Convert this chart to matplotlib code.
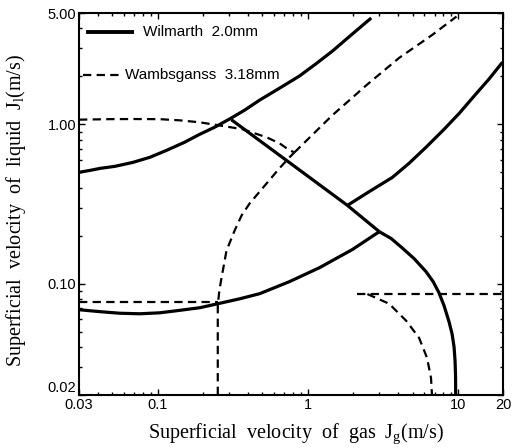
import matplotlib
matplotlib.use("Agg")
import matplotlib.pyplot as plt
from matplotlib.lines import Line2D

plt.rcParams['font.family'] = ['Liberation Sans', 'DejaVu Sans']
plt.rcParams['mathtext.fontset'] = 'custom'
plt.rcParams['mathtext.rm'] = 'Liberation Serif'

# ---- data ----
# Wilmarth 2.0 mm (solid)
wil_upper_x = [0.03, 0.0355, 0.0414, 0.052, 0.0685, 0.0889, 0.115, 0.151, 0.191, 0.240,
               0.302, 0.380, 0.479, 0.650, 0.881, 1.13, 1.46, 1.95, 2.65]
wil_upper_y = [0.50, 0.514, 0.529, 0.545, 0.577, 0.621, 0.687, 0.771, 0.866, 0.959,
               1.08, 1.227, 1.42, 1.687, 2.01, 2.39, 2.88, 3.64, 4.65]
wil_diag_x = [0.31, 1.84, 3.0]
wil_diag_y = [1.07, 0.31, 0.212]
wil_right_up_x = [1.84, 2.58, 3.66, 4.73, 6.14, 8.1, 10.2, 12.8, 16.1, 19.6, 20.0]
wil_right_up_y = [0.31, 0.379, 0.464, 0.569, 0.718, 0.931, 1.17, 1.50, 1.92, 2.42, 2.45]
wil_lower_x = [0.03, 0.0414, 0.0561, 0.0762, 0.1033, 0.134, 0.191, 0.252, 0.352, 0.479,
               0.757, 1.20, 1.99, 3.0]
wil_lower_y = [0.0686, 0.0667, 0.0652, 0.0647, 0.0656, 0.0676, 0.0706, 0.0748, 0.0803,
               0.0865, 0.103, 0.126, 0.164, 0.212]
wil_annular_x = [3.0, 3.60, 4.25, 5.12, 6.14, 6.85, 7.49, 8.1, 8.74, 9.16, 9.44, 9.59,
                 9.66, 9.68]
wil_annular_y = [0.212, 0.192, 0.168, 0.1435, 0.119, 0.103, 0.0877, 0.0727, 0.0577,
                 0.0484, 0.0401, 0.0327, 0.0264, 0.02]

# Wambsganss 3.18 mm (dashed)
wam_top_x = [0.03, 0.0482, 0.0685, 0.103, 0.140, 0.191, 0.233, 0.293, 0.369, 0.443,
             0.532, 0.650, 0.757, 0.817]
wam_top_y = [1.07, 1.078, 1.08, 1.078, 1.06, 1.03, 1.00, 0.966, 0.931, 0.879,
             0.830, 0.760, 0.687, 0.667]
wam_diag_x = [0.817, 1.46, 2.46, 4.06, 6.75, 9.8]
wam_diag_y = [0.667, 1.14, 1.76, 2.61, 3.64, 4.75]
wam_vert_x = [0.252, 0.252, 0.258, 0.267, 0.288, 0.326, 0.363, 0.410, 0.532, 0.649,
              0.757, 0.817]
wam_vert_y = [0.02, 0.0726, 0.0903, 0.109, 0.161, 0.215, 0.268, 0.318, 0.425, 0.530,
              0.621, 0.667]
wam_low_x = [0.03, 0.252]
wam_low_y = [0.077, 0.077]
wam_right_h_x = [2.14, 20.0]
wam_right_h_y = [0.086, 0.086]
wam_right_c_x = [2.5, 3.49, 4.53, 5.52, 6.24, 6.63, 6.73]
wam_right_c_y = [0.086, 0.0748, 0.0585, 0.0457, 0.0342, 0.0256, 0.02]

xticks = [0.03, 0.1, 1, 10, 20]
xticklabels = ['0.03', '0.1', '1', '10', '20']
yticks = [0.02, 0.1, 1, 5]
yticklabels = ['0.02', '0.10', '1.00', '5.00']

legend_labels = ['Wilmarth  2.0mm', 'Wambsganss  3.18mm']

# ---- figure ----
fig = plt.figure(figsize=(5.21, 4.48), dpi=100)
ax = fig.add_axes([79/521, 1-395/448, 424/521, 382/448])

slw = 2.3
dlw = 1.6
dash = (6.0/dlw, 3.8/dlw)

for xs, ys in [(wil_upper_x, wil_upper_y), (wil_diag_x, wil_diag_y),
               (wil_right_up_x, wil_right_up_y), (wil_lower_x, wil_lower_y),
               (wil_annular_x, wil_annular_y)]:
    ax.plot(xs, ys, color='black', lw=slw, solid_capstyle='butt',
            solid_joinstyle='round', clip_on=True)

for xs, ys in [(wam_top_x, wam_top_y), (wam_diag_x, wam_diag_y),
               (wam_vert_x, wam_vert_y), (wam_low_x, wam_low_y),
               (wam_right_h_x, wam_right_h_y), (wam_right_c_x, wam_right_c_y)]:
    ax.plot(xs, ys, color='black', lw=dlw, dashes=dash, clip_on=True)

ax.set_xscale('log')
ax.set_yscale('log')
ax.set_xlim(0.03, 20)
ax.set_ylim(0.02, 5)
ax.set_xticks(xticks, xticklabels)
ax.set_yticks(yticks, yticklabels)
ax.tick_params(which='both', direction='in', top=True, right=True,
               labelsize=10.5, width=1.0, pad=2)
ax.tick_params(which='major', length=4)
ax.tick_params(which='minor', length=2.5)
ax.get_yticklabels()[0].set_verticalalignment('bottom')
for s in ax.spines.values():
    s.set_linewidth(1.5)

# legend (drawn manually in axes coordinates)
ax.add_line(Line2D([0.021, 0.125], [0.950, 0.950], transform=ax.transAxes,
                   color='black', lw=2.8))
ax.text(0.151, 0.950, legend_labels[0], transform=ax.transAxes,
        fontsize=11, va='center', ha='left')
ax.add_line(Line2D([0.0094, 0.101], [0.838, 0.838], transform=ax.transAxes,
                   color='black', lw=dlw, dashes=dash))
ax.text(0.108, 0.838, legend_labels[1], transform=ax.transAxes,
        fontsize=11, va='center', ha='left')

ax.set_xlabel(r'Superficial  velocity  of  gas  J$_\mathregular{g}$(m/s)',
              family='Liberation Serif', fontsize=14.5)
ax.set_ylabel(r'Superficial  velocity  of  liquid  J$_\mathregular{l}$(m/s)',
              family='Liberation Serif', fontsize=14.5)
ax.xaxis.set_label_coords((296 - 79) / 424, 1 - (434 - 13) / 382)
ax.xaxis.label.set_verticalalignment('center')
ax.yaxis.set_label_coords((16 - 79) / 424, 1 - (210 - 13) / 382)
ax.yaxis.label.set_verticalalignment('center')

fig.savefig('out.png', dpi=100)
